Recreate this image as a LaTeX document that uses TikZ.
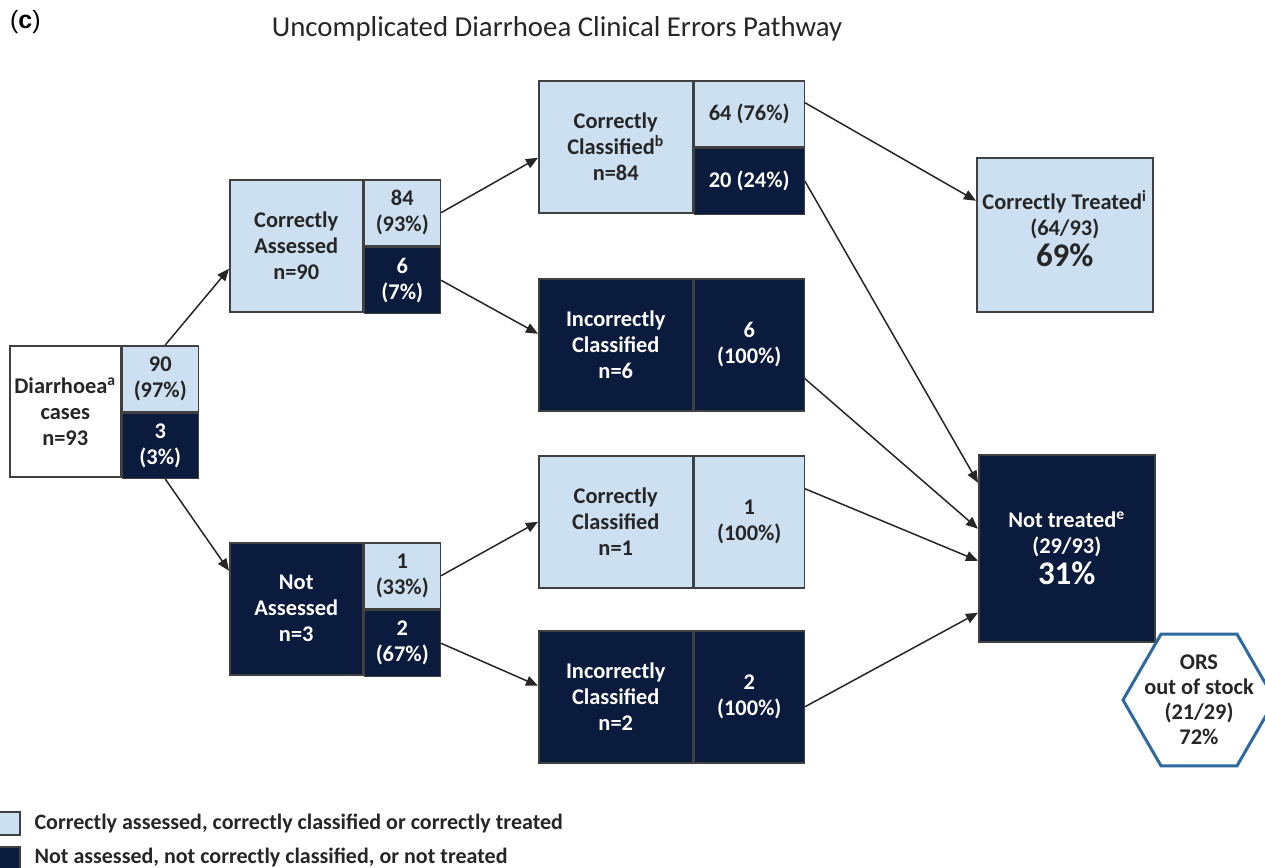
\documentclass[tikz,border=0pt]{standalone}
\usepackage{fontspec}
\setmainfont{Carlito}
\newfontfamily\panelfont{Liberation Sans}
\usetikzlibrary{arrows.meta,shapes.geometric,positioning}
\definecolor{paleblue}{RGB}{204,224,241}
\definecolor{navy}{RGB}{10,27,61}
\definecolor{edgegray}{RGB}{64,64,64}
\definecolor{hexblue}{RGB}{46,106,160}
\begin{document}
\begin{tikzpicture}[x=0.5pt,y=-0.5pt,
    cell/.style={draw=edgegray,line width=0.75pt,anchor=north west,inner sep=1pt,align=center,
        font=\fontsize{11.2}{13}\selectfont\bfseries},
    pale/.style={cell,fill=paleblue,text=black!85},
    dark/.style={cell,fill=navy,text=white},
    flow/.style={-{Triangle[length=6pt,width=5pt]},line width=0.75pt,black!85},
    keytext/.style={font=\fontsize{11}{13}\selectfont\bfseries,text=black!85}]
    \useasboundingbox (0,0) rectangle (1265,868);
    \node[anchor=west,font=\panelfont\fontsize{12.5}{14}\selectfont] (panel) at (3,22) {(\textbf{c})};
    \node[font=\fontsize{14.4}{17}\selectfont,text=black!85] (title) at (557,29) {Uncomplicated Diarrhoea Clinical Errors Pathway};
    % cases
    \node[cell,fill=white,text=black!85,minimum width=55.5pt,minimum height=65.5pt] (dc) at (9,345) {Diarrhoea\textsuperscript{a}\\cases\\n=93};
    \node[pale,minimum width=38pt,minimum height=32.75pt] (dc1) at (dc.north east) {90\\(97\%)};
    \node[dark,minimum width=38pt,minimum height=32.75pt] (dc2) at (dc1.south west) {3\\(3\%)};
    % assessment
    \node[pale,minimum width=66.5pt,minimum height=66pt] (ca) at (229,179) {Correctly\\Assessed\\n=90};
    \node[pale,minimum width=38pt,minimum height=33pt] (ca1) at (ca.north east) {84\\(93\%)};
    \node[dark,minimum width=38pt,minimum height=33pt] (ca2) at (ca1.south west) {6\\(7\%)};
    \node[dark,minimum width=66.5pt,minimum height=66pt] (na) at (229,542) {Not\\Assessed\\n=3};
    \node[pale,minimum width=38pt,minimum height=33pt] (na1) at (na.north east) {1\\(33\%)};
    \node[dark,minimum width=38pt,minimum height=33pt] (na2) at (na1.south west) {2\\(67\%)};
    % classification
    \node[pale,minimum width=77pt,minimum height=66pt] (cc) at (538,80) {Correctly\\Classified\textsuperscript{b}\\n=84};
    \node[pale,minimum width=55pt,minimum height=33pt] (cc1) at (cc.north east) {64 (76\%)};
    \node[dark,minimum width=55pt,minimum height=33pt] (cc2) at (cc1.south west) {20 (24\%)};
    \node[dark,minimum width=77pt,minimum height=66pt] (ic) at (538,278) {Incorrectly\\Classified\\n=6};
    \node[dark,minimum width=55pt,minimum height=66pt] (ic1) at (ic.north east) {6\\(100\%)};
    \node[pale,minimum width=77pt,minimum height=66pt] (nc) at (538,455) {Correctly\\Classified\\n=1};
    \node[pale,minimum width=55pt,minimum height=66pt] (nc1) at (nc.north east) {1\\(100\%)};
    \node[dark,minimum width=77pt,minimum height=66pt] (ni) at (538,630) {Incorrectly\\Classified\\n=2};
    \node[dark,minimum width=55pt,minimum height=66pt] (ni1) at (ni.north east) {2\\(100\%)};
    % treatment
    \node[pale,minimum width=88pt,minimum height=77pt,text depth=6pt] (ct) at (976,157) {Correctly Treated\textsuperscript{i}\\(64/93)\\[1.5pt]{\bfseries\fontsize{16.5}{18}\selectfont 69\%}};
    \node[dark,minimum width=88pt,minimum height=93.5pt] (nt) at (978,454) {Not treated\textsuperscript{e}\\(29/93)\\[1pt]{\bfseries\fontsize{16.5}{18}\selectfont 31\%}};
    \node[regular polygon,regular polygon sides=6,draw=hexblue,line width=1.5pt,minimum size=76pt,inner sep=0pt] (ors) at (1199,700) {};
    \node[align=center,text=black!85,font=\fontsize{11.2}{12.5}\selectfont\bfseries] (orstext) at (ors.center) {ORS\\out of stock\\(21/29)\\72\%};
    % arrows
    \draw[flow] ([xshift=2.5pt]dc1.north) -- ([yshift=-11.5pt]ca.west);
    \draw[flow] ([xshift=2.5pt]dc2.south) -- ([yshift=19pt]na.west);
    \draw[flow] (ca1.east) -- ([yshift=-5.5pt]cc.west);
    \draw[flow] (ca2.east) -- ([yshift=5.5pt]ic.west);
    \draw[flow] (na1.east) -- (nc.west);
    \draw[flow] (na2.east) -- ([yshift=5.5pt]ni.west);
    \draw[flow] ([yshift=5.5pt]cc1.east) -- ([yshift=17pt]ct.west);
    \draw[flow] (cc2.east) -- ([yshift=32.75pt]nt.west);
    \draw[flow] ([yshift=-17pt]ic1.east) -- ([yshift=9.75pt]nt.west);
    \draw[flow] ([yshift=16.5pt]nc1.east) -- ([yshift=-6.25pt]nt.west);
    \draw[flow] ([yshift=-5pt]ni1.east) -- ([yshift=-32.25pt]nt.west);
    % key
    \node[pale,minimum width=11.5pt,minimum height=11.5pt] (keypale) at (-4,811) {};
    \node[dark,minimum width=11.5pt,minimum height=11pt] (keydark) at (-4,846) {};
    \node[right=3.5pt of keypale,keytext] (keypaletext) {Correctly assessed, correctly classified or correctly treated};
    \node[right=3.5pt of keydark,keytext] (keydarktext) {Not assessed, not correctly classified, or not treated};
\end{tikzpicture}
\end{document}
